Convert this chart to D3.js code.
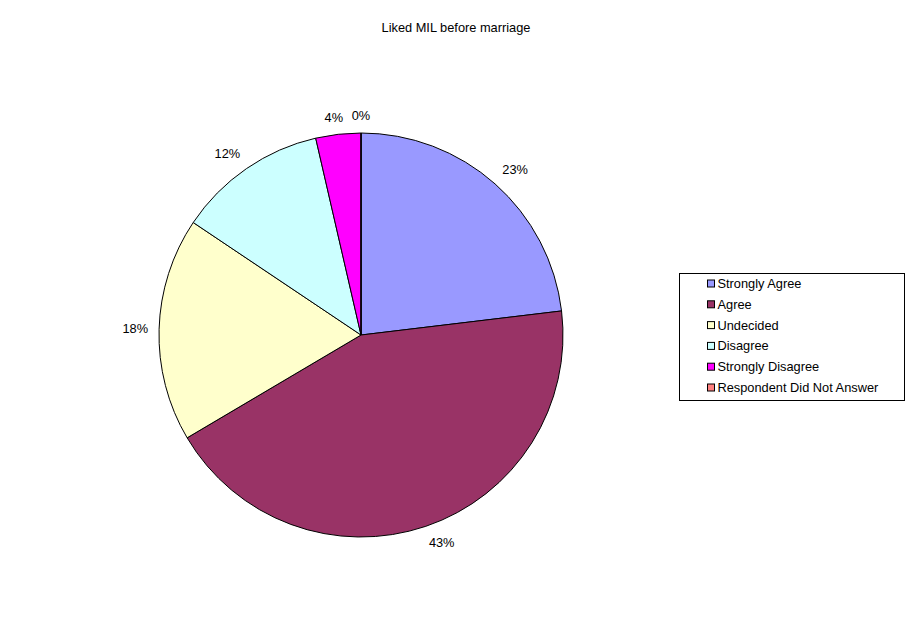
<!DOCTYPE html>
<html>
<head>
  <meta charset="utf-8">
  <script src="https://d3js.org/d3.v7.min.js"></script>
  <style>
    body { margin: 0; background: #fff; }
    text { font-family: Arial, "Liberation Sans", sans-serif; font-size: 12.8px; fill: #000; }
  </style>
</head>
<body>
<script>
// chart data
var categories = ["Strongly Agree", "Agree", "Undecided", "Disagree",
                  "Strongly Disagree", "Respondent Did Not Answer"];
var values = [23.1, 43.4, 17.9, 12.0, 3.6, 0];
var colors = ["#9999ff", "#993366", "#ffffcc", "#ccffff", "#ff00ff", "#ff8080"];

var width = 912, height = 624;
var cx = 361, cy = 335, radius = 202;

var svg = d3.select("body").append("svg")
    .attr("width", width)
    .attr("height", height);

svg.append("text")
    .attr("x", 456)
    .attr("y", 32)
    .attr("text-anchor", "middle")
    .text("Liked MIL before marriage");

var data = categories.map(function (c, i) { return { name: c, value: values[i], color: colors[i] }; });
var total = d3.sum(values);

var pie = d3.pie().sort(null).value(function (d) { return d.value; });
var arc = d3.arc().innerRadius(0).outerRadius(radius);

var g = svg.append("g").attr("transform", "translate(" + cx + "," + cy + ")");
var arcs = pie(data);

g.selectAll("path")
    .data(arcs)
    .enter().append("path")
    .attr("d", arc)
    .attr("fill", function (d) { return d.data.color; })
    .attr("stroke", "#000")
    .attr("stroke-width", 1);

// labels: box corner sits just outside the rim (excel style)
var pct = d3.format(".0%");
var lr = radius + 11, lh = 12;
function side(v) { return Math.max(-1, Math.min(1, v * 3)); }
g.selectAll("text.lbl")
    .data(arcs)
    .enter().append("text")
    .attr("class", "lbl")
    .attr("text-anchor", "middle")
    .attr("dy", "0.35em")
    .text(function (d) { return pct(d.data.value / total); })
    .each(function (d) {
      var a = (d.startAngle + d.endAngle) / 2,
          s = Math.sin(a), c = Math.cos(a),
          w = this.getComputedTextLength();
      var x = lr * s + side(s) * w / 2,
          y = -lr * c - side(c) * lh / 2;
      d3.select(this).attr("x", x).attr("y", y);
    });

// legend
var legend = svg.append("g").attr("transform", "translate(679.5,273.5)");
legend.append("rect")
    .attr("width", 225)
    .attr("height", 127)
    .attr("fill", "#fff")
    .attr("stroke", "#000");

var item = legend.selectAll("g.item")
    .data(data)
    .enter().append("g")
    .attr("class", "item")
    .attr("transform", function (d, i) { return "translate(28," + (10 + i * 20.8) + ")"; });

item.append("rect")
    .attr("x", 0).attr("y", -3.5)
    .attr("width", 7).attr("height", 7)
    .attr("fill", function (d) { return d.color; })
    .attr("stroke", "#000");

item.append("text")
    .attr("x", 10)
    .attr("dy", "0.35em")
    .text(function (d) { return d.name; });
</script>
</body>
</html>
